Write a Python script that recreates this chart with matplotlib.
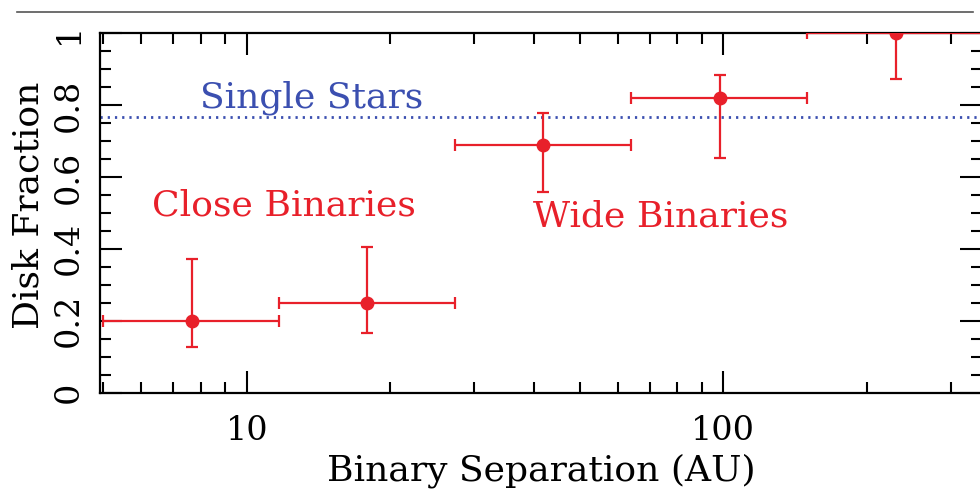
import matplotlib
matplotlib.use("Agg")
import matplotlib.pyplot as plt
from matplotlib.ticker import MultipleLocator, LogLocator, NullFormatter, FixedFormatter, FixedLocator
from matplotlib.lines import Line2D

# binned disk fractions
sep = [7.67, 17.9, 41.9, 98.4, 230.0]
sep_lo = [5.0, 11.7, 27.4, 64.0, 150.0]
sep_hi = [11.7, 27.4, 64.0, 150.0, 351.0]
frac = [0.20, 0.25, 0.69, 0.82, 1.00]
frac_lo = [0.127, 0.166, 0.559, 0.654, 0.874]
frac_hi = [0.371, 0.404, 0.778, 0.885, 1.00]
single_star_frac = 0.767

red = "#e8202a"
blue = "#3b4fb0"

plt.rcParams["font.family"] = "DejaVu Serif"

fig = plt.figure(figsize=(9.8, 4.9), dpi=100)
ax = fig.add_axes([100 / 980, 97.5 / 490, 882 / 980, 359.2 / 490])

xerr = [[s - l for s, l in zip(sep, sep_lo)], [h - s for s, h in zip(sep, sep_hi)]]
yerr = [[f - l for f, l in zip(frac, frac_lo)], [h - f for f, h in zip(frac, frac_hi)]]
ax.errorbar(sep, frac, xerr=xerr, yerr=yerr, fmt="o", color=red, ms=9,
            elinewidth=1.6, capsize=4.5, capthick=1.6, zorder=3)

ax.axhline(single_star_frac, color=blue, ls=(0, (0.8, 1.8)), lw=2, zorder=2)

ax.text(7.98, 0.794, "Single Stars", color=blue, fontsize=26, va="baseline")
ax.text(6.33, 0.494, "Close Binaries", color=red, fontsize=26, va="baseline")
ax.text(39.9, 0.461, "Wide Binaries", color=red, fontsize=26, va="baseline")

ax.set_xscale("log")
ax.set_xlim(4.92, 349)
ax.set_ylim(0, 1)

ax.xaxis.set_major_locator(FixedLocator([10, 100]))
ax.xaxis.set_major_formatter(FixedFormatter(["10", "100"]))
ax.xaxis.set_minor_locator(LogLocator(base=10, subs=range(2, 10)))
ax.xaxis.set_minor_formatter(NullFormatter())
ax.set_yticks([0, 0.2, 0.4, 0.6, 0.8, 1.0])
ax.set_yticklabels(["0", "0.2", "0.4", "0.6", "0.8", "1"], rotation=90, va="center")
ax.yaxis.set_minor_locator(MultipleLocator(0.05))

ax.tick_params(which="both", direction="in", top=True, right=True, width=1.5, colors="black")
ax.tick_params(which="major", length=16, labelsize=24)
ax.tick_params(axis="x", which="major", pad=16)
ax.tick_params(axis="y", which="major", pad=11)
ax.tick_params(which="minor", length=8)
for sp in ax.spines.values():
    sp.set_linewidth(1.6)

ax.set_xlabel("Binary Separation (AU)", fontsize=26)
ax.xaxis.set_label_coords(0.5, -0.17)
ax.set_ylabel("Disk Fraction", fontsize=26, va="center")
ax.yaxis.set_label_coords(-72 / 882, 0.52)

fig.add_artist(Line2D([17 / 980, 973 / 980], [478 / 490, 478 / 490], color="#555555", lw=1.2))

fig.savefig("out.png", dpi=100)
